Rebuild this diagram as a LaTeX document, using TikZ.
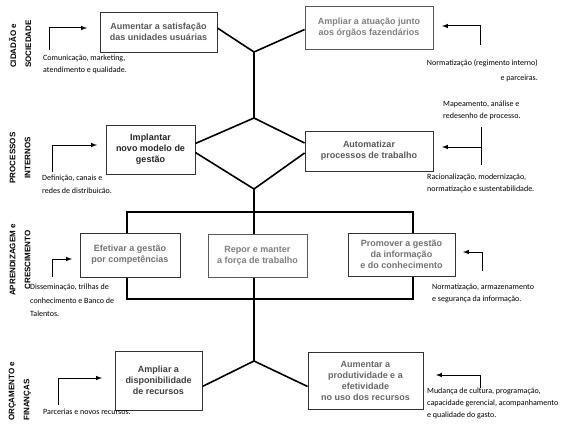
\documentclass[tikz,border=0pt]{standalone}
\usepackage{fontspec}
\setmainfont{Liberation Sans}
\newfontfamily\notefont{Carlito}
\usepackage{tikz}
\usetikzlibrary{positioning}
\usepackage{xcolor}

\begin{document}
\begin{tikzpicture}[
    x=1pt, y=-1pt,
    objetivo/.style={
        rectangle,
        draw=black!80,
        line width=0.8pt,
        fill=white,
        inner sep=1pt,
        align=center,
        font=\fontsize{9}{11}\selectfont\bfseries
    },
    perspectiva/.style={
        rotate=90,
        inner sep=0pt,
        font=\fontsize{8}{15}\selectfont\bfseries
    },
    nota/.style={
        inner sep=0pt,
        align=left,
        font=\notefont\fontsize{8}{12}\selectfont
    },
    eixo/.style={line width=1.6pt},
    seta/.style={-latex, line width=1pt}
]

\useasboundingbox (0,0) rectangle (565,436);

% coordinates of the main axis
\coordinate (jtop) at (254,52);
\coordinate (dtop) at (254,118);
\coordinate (dbot) at (254,189);
\coordinate (rtl) at (127,212);
\coordinate (rbr) at (413,299);
\coordinate (jbot) at (254,361);

% perspectives
\node[perspectiva, align=left, anchor=west] (cidadao) at (20,68)
{CIDADÃO e\\SOCIEDADE};
\node[perspectiva, align=center] (processos) at (20,158)
{PROCESSOS\\INTERNOS};
\node[perspectiva, align=center] (aprendizagem) at (20,260)
{APRENDIZAGEM e\\CRESCIMENTO};
\node[perspectiva, align=left, anchor=west] (orcamento) at (20,421)
{ORÇAMENTO e\\FINANÇAS};

% axis lines (drawn below the boxes)
\draw[eixo] (jtop) -- (dtop);
\draw[eixo] (dbot) -- (jbot);
\draw[eixo] (rtl) rectangle (rbr);

% objectives
\node[objetivo, text=black!65, minimum width=117, minimum height=40] (satisfacao) at (158.5,32)
{Aumentar a satisfação\\das unidades usuárias};
\node[objetivo, text=black!50, draw=black!65, minimum width=128, minimum height=43] (atuacao) at (369,27.5)
{Ampliar a atuação junto\\aos órgãos fazendários};
\node[objetivo, text=black!85, minimum width=89, minimum height=49] (implantar) at (150.5,149.5)
{Implantar\\novo modelo de\\gestão};
\node[objetivo, text=black!65, minimum width=128, minimum height=40] (automatizar) at (369,151)
{Automatizar\\processos de trabalho};
\node[objetivo, text=black!55, minimum width=100, minimum height=44] (efetivar) at (130,255)
{Efetivar a gestão\\por competências};
\node[objetivo, text=black!50, draw=black!65, minimum width=99, minimum height=43] (repor) at (257.5,255.5)
{Repor e manter\\a força de trabalho};
\node[objetivo, text=black!55, minimum width=107, minimum height=43] (promover) at (401.5,254.5)
{Promover a gestão\\da informação\\e do conhecimento};
\node[objetivo, text=black!75, minimum width=87, minimum height=59] (ampliar) at (158.5,380.5)
{Ampliar a\\disponibilidade\\de recursos};
\node[objetivo, text=black!60, minimum width=115, minimum height=57] (produtividade) at (365.5,380.5)
{Aumentar a\\produtividade e a\\efetividade\\no uso dos recursos};

% links between objectives
\draw[eixo] ([yshift=4pt]satisfacao.east) -- (jtop) -- ([yshift=-2pt]atuacao.west);
\draw[eixo] ([yshift=6pt]implantar.east) -- (dtop) -- ([yshift=8pt]automatizar.west);
\draw[eixo] ([yshift=-3pt]implantar.east) -- (dbot) -- ([yshift=-2pt]automatizar.west);
\draw[eixo] ([yshift=-6pt]ampliar.east) -- (jbot) -- ([yshift=-6pt]produtividade.west);

% arrows
\coordinate (s1a) at (49,50);  \coordinate (s1b) at (87,28);
\coordinate (s2a) at (480,45); \coordinate (s2b) at (442,26);
\coordinate (s3a) at (52,172); \coordinate (s3b) at (97,145);
\coordinate (s4a) at (481,127); \coordinate (s4b) at (481,165);
\coordinate (s4c) at (481,147); \coordinate (s4d) at (442,147);
\coordinate (s5a) at (52,277); \coordinate (s5b) at (72,259);
\coordinate (s6a) at (482,271); \coordinate (s6b) at (463,252);
\coordinate (s7a) at (58,405); \coordinate (s7b) at (102,378);
\coordinate (s8a) at (480,388); \coordinate (s8b) at (436,375);

\draw[seta] (s1a) |- (s1b);
\draw[seta] (s2a) |- (s2b);
\draw[seta] (s3a) |- (s3b);
\draw[line width=1pt] (s4a) -- (s4b);
\draw[seta] (s4c) -- (s4d);
\draw[seta] (s5a) |- (s5b);
\draw[seta] (s6a) |- (s6b);
\draw[seta] (s7a) |- (s7b);
\draw[seta] (s8a) |- (s8b);

% notes
\node[nota, anchor=north west] (comunicacao) at (43,55)
{Comunicação, marketing,\\atendimento e qualidade.};
\node[nota, align=right, anchor=north east, font=\notefont\fontsize{8}{15}\selectfont] (regimento) at (538,59)
{Normatização (regimento interno)\\e parceiras.};
\node[nota, anchor=north west, font=\notefont\fontsize{8}{13}\selectfont] (definicao) at (42,175)
{Definição, canais e\\redes de distribuicão.};
\node[nota, anchor=north west] (mapeamento) at (443,101)
{Mapeamento, análise e\\redesenho de processo.};
\node[nota, anchor=north west, font=\notefont\fontsize{8}{11.5}\selectfont] (racionalizacao) at (427,174)
{Racionalização, modernização,\\normatização e sustentabilidade.};
\node[nota, anchor=north west, font=\notefont\fontsize{8}{13.5}\selectfont] (disseminacao) at (30,284)
{Disseminação, trilhas de\\conhecimento e Banco de\\Talentos.};
\node[nota, anchor=north west] (armazenamento) at (432,284)
{Normatização, armazenamento\\e segurança da informação.};
\node[nota, anchor=north west] (parcerias) at (43,409)
{Parcerias e novos recursos.};
\node[nota, anchor=north west] (cultura) at (427,388)
{Mudança de cultura, programação,\\capacidade gerencial, acompanhamento\\e qualidade do gasto.};

\end{tikzpicture}
\end{document}
